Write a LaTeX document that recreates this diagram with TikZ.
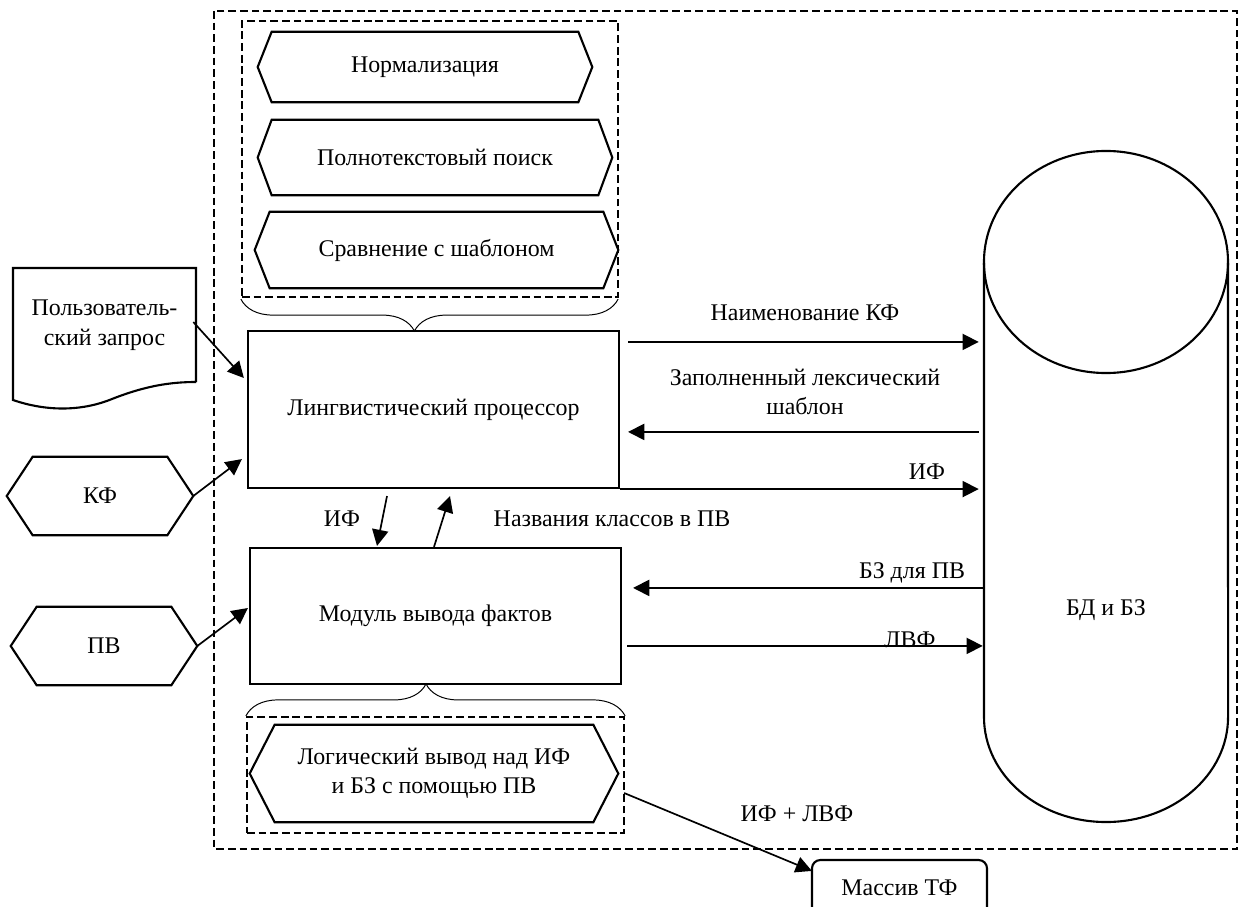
\documentclass[tikz,border=0pt]{standalone}
\usepackage{fontspec}
\setmainfont{Liberation Serif}
\usetikzlibrary{calc}
\usetikzlibrary{arrows.meta}
\usetikzlibrary{decorations.pathreplacing}

\tikzset{
  blk/.style={draw, line width=1.5pt, rectangle, inner sep=0pt, align=center},
  hexin/.style={inner sep=0pt, align=center},
  ramka/.style={draw, line width=1.5pt, dash pattern=on 5.5pt off 2.8pt, inner sep=0pt},
  arr/.style={-{Triangle[length=11.5pt,width=11.5pt]}, line width=1.2pt},
  skobka/.style={decorate, decoration={brace, amplitude=0.8cm, aspect=#1}, line width=0.7pt},
  lbl/.style={inner sep=0pt, align=center},
}

\begin{document}
\begin{tikzpicture}[x=0.025cm, y=-0.025cm, font=\fontsize{17}{21}\selectfont]
\clip (0,0) rectangle (1239,907);
% внешняя рамка
\draw[ramka] (214,11) rectangle (1237,849);

% рамки с модулями
\node[ramka, minimum width=9.4cm, minimum height=6.9cm] (in1) at (430,159) {};
\node[ramka, minimum width=9.425cm, minimum height=2.9cm] (in2) at (435.5,775) {};

\node[hexin, minimum width=7.65cm, minimum height=1.75cm] (norm) at (425,67) {Нормализация};
\node[hexin, minimum width=8.15cm, minimum height=1.875cm] (poisk) at (435,157.5) {Полнотекстовый поиск};
\node[hexin, minimum width=8.325cm, minimum height=1.9cm] (shab) at (436.5,250) {Сравнение с шаблоном};
\node[hexin, minimum width=7.95cm, minimum height=2.425cm] (log) at (434,773.5) {Логический вывод над ИФ\\и БЗ с помощью ПВ};
\node[hexin, minimum width=3.35cm, minimum height=1.95cm] (kf) at (100,496) {КФ};
\node[hexin, minimum width=3.35cm, minimum height=1.95cm] (pv) at (104,646) {ПВ};

\foreach \n/\ot in {norm/14, poisk/14, shab/15, log/25, kf/26, pv/26}
  \draw[line width=1.5pt] (\n.north west) -- (\n.north east) -- ($(\n.east)+(\ot,0)$)
    -- (\n.south east) -- (\n.south west) -- ($(\n.west)+(-\ot,0)$) -- cycle;

% основные блоки
\node[blk, minimum width=9.275cm, minimum height=3.925cm] (lp) at (433.5,409.5) {Лингвистический процессор};
\node[blk, minimum width=9.275cm, minimum height=3.4cm] (mvf) at (435.5,616) {Модуль вывода фактов};
\node[blk, rounded corners=6pt, minimum width=4.375cm, minimum height=1.375cm] (mt) at (899.5,887.5) {Массив ТФ};

% скобки
\draw[skobka=0.54] ($(in1.south east)+(-1,1)$) -- ($(in1.south west)+(0,1)$);
\draw[skobka=0.475] (in2.north west) -- (in2.north east);

% запрос
\node[hexin, minimum width=4.575cm, minimum height=2.85cm] (zqr) at (104.5,325) {Пользователь-\\ский запрос};
\draw[line width=1.5pt] (196,382) -- (196,268) -- (13,268) -- (13,400)
  .. controls (45,411) and (80,412) .. (112,399) .. controls (145,386) and (170,382) .. (196,382);

% БД и БЗ
\node[inner sep=0pt, minimum width=6.1cm, minimum height=16.775cm] (bd) at (1106,486.5) {};
\draw[line width=1.5pt] (1106,262) ellipse [x radius=3.05cm, y radius=2.775cm];
\draw[line width=1.5pt] (984,263) -- (984,717) arc[start angle=180, end angle=360, x radius=3.05cm, y radius=2.625cm] -- (1228,263);
\node[lbl] (bdt) at (1106,610) {БД и БЗ};

% связи
\draw[arr] ($(lp.north east)+(8,12)$) coordinate (s1) -- ($(s1 -| bd.west)+(-5,0)$);
\coordinate (s2) at ($(lp.north east)+(8,102)$);
\draw[arr] ($(s2 -| bd.west)+(-5,0)$) -- (s2);
\draw[arr] (lp.south east) -- ($(lp.south east -| bd.west)+(-5,0)$);
\coordinate (s4) at ($(mvf.north east)+(11,41)$);
\draw[arr] ($(s4 -| bd.west)+(-1,0)$) -- (s4);
\draw[arr] ($(mvf.north east)+(5,99)$) coordinate (s5) -- ($(s5 -| bd.west)+(-1,0)$);

\draw[arr] ($(lp.south)+(-46.5,7)$) -- ($(mvf.north)+(-58.5,-1)$);
\draw[arr] ($(mvf.north)+(-1.5,0)$) -- ($(lp.south)+(16.5,7)$);

\draw[arr] ($(zqr.east)+(-3,-3)$) -- ($(lp.west)+(-3,-31.5)$);
\draw[arr] ($(kf.east)+(26,0)$) -- ($(lp.south west)+(-5,-30)$);
\draw[arr] ($(pv.east)+(26,0)$) -- ($(mvf.west)+(-1,-8)$);
\draw[arr] ($(in2.east)+(-1,18)$) -- ($(mt.north west)+(1,12)$);

% подписи
\node[lbl] (l1) at (805,313) {Наименование КФ};
\node[lbl] (l2) at (805,392) {Заполненный лексический\\шаблон};
\node[lbl] (l3) at (927,472) {ИФ};
\node[lbl] (l4) at (342,519) {ИФ};
\node[lbl] (l5) at (612,519) {Названия классов в ПВ};
\node[lbl] (l6) at (912,573) {БЗ для ПВ};
\node[lbl] (l7) at (910,640) {ЛВФ};
\node[lbl] (l8) at (797,814) {ИФ + ЛВФ};
\end{tikzpicture}
\end{document}
